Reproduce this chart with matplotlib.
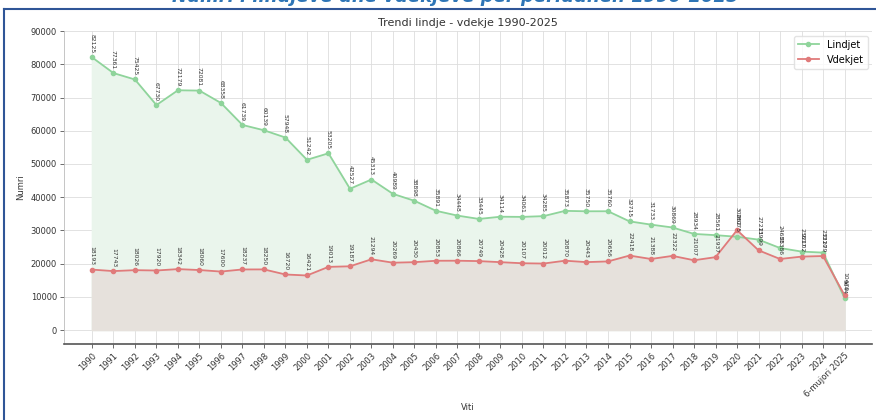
# -*- coding: utf-8 -*-
"""Trendi lindje - vdekje 1990-2025 (lindjet dhe vdekjet ne Shqiperi)."""
import matplotlib
matplotlib.use("Agg")
import matplotlib.pyplot as plt
from matplotlib.lines import Line2D

# ----------------------------------------------------------------------
# te dhenat
# ----------------------------------------------------------------------
vitet = [str(v) for v in range(1990, 2025)] + ["6-mujori 2025"]

lindjet = [82125, 77361, 75425, 67730, 72179, 72081, 68358, 61739, 60139, 57948,
           51242, 53205, 42527, 45313, 40989, 38898, 35891, 34448, 33445, 34114,
           34061, 34285, 35873, 35750, 35760, 32715, 31733, 30869, 28934, 28561,
           28075, 27211, 24688, 23617, 23310, 9644]

vdekjet = [18193, 17743, 18026, 17920, 18342, 18060, 17600, 18237, 18250, 16720,
           16421, 19013, 19187, 21294, 20269, 20430, 20853, 20866, 20749, 20428,
           20107, 20012, 20870, 20443, 20656, 22418, 21388, 22322, 21007, 21937,
           30062, 23999, 21386, 22102, 22279, 10479]

y_ticks = list(range(0, 90001, 10000))

GREEN = "#8fd49b"
RED = "#e07b7b"
GREEN_FILL = "#eaf5ec"
RED_FILL = "#e6e1dc"

fig = plt.figure(figsize=(8.76, 4.2), dpi=100)
ax = fig.add_axes([0.073, 0.181, 0.923, 0.745])

x = list(range(len(vitet)))

ax.fill_between(x, 0, lindjet, color=GREEN_FILL, zorder=1)
ax.fill_between(x, 0, vdekjet, color=RED_FILL, zorder=2)
ax.plot(x, lindjet, color=GREEN, lw=1.3, marker="o", ms=3, zorder=4)
ax.plot(x, vdekjet, color=RED, lw=1.3, marker="o", ms=3, zorder=4)

for xi, v in zip(x, lindjet):
    ax.annotate(str(v), (xi, v), xytext=(0, 3), textcoords="offset points",
                rotation=-90, ha="center", va="bottom", fontsize=4.3,
                color="#333333", zorder=5)
for xi, v in zip(x, vdekjet):
    ax.annotate(str(v), (xi, v), xytext=(0, 3), textcoords="offset points",
                rotation=-90, ha="center", va="bottom", fontsize=4.3,
                color="#333333", zorder=5)

ax.set_xlim(-1.3, len(vitet) - 1 + 1.3)
ax.set_ylim(-4200, 90000)
ax.set_xticks(x)
ax.set_xticklabels(vitet, rotation=45, ha="right", rotation_mode="anchor",
                   fontsize=6, color="#333333")
ax.set_yticks(y_ticks)
ax.set_yticklabels([str(t) for t in y_ticks], fontsize=6, color="#333333")
ax.tick_params(axis="both", length=3, width=0.6, color="#555555", pad=2)

ax.grid(True, color="#dddddd", lw=0.6)
ax.set_axisbelow(True)
for s in ["top", "right"]:
    ax.spines[s].set_visible(False)
ax.spines["left"].set_color("#bbbbbb")
ax.spines["left"].set_linewidth(0.6)
ax.spines["bottom"].set_color("#555555")
ax.spines["bottom"].set_linewidth(1.2)

ax.set_title("Trendi lindje - vdekje 1990-2025", fontsize=8, color="#333333", pad=4)
ax.set_xlabel("Viti", fontsize=6, color="#333333")
ax.xaxis.set_label_coords(0.5, -0.19)
ax.set_ylabel("Numri", fontsize=6, color="#333333", labelpad=4)

handles = [Line2D([0], [0], color=GREEN, marker="o", ms=3, lw=1.3),
           Line2D([0], [0], color=RED, marker="o", ms=3, lw=1.3)]
ax.legend(handles, ["Lindjet", "Vdekjet"], loc="upper right", fontsize=7,
          frameon=True, edgecolor="#dddddd", handlelength=2.2)

# titulli i dokumentit (i prere lart) dhe korniza blu
fig.text(0.52, 1.006, "Numri i lindjeve dhe vdekjeve për periudhën 1990-2025",
         ha="center", va="center", fontsize=13, fontweight="bold",
         fontstyle="italic", color="#2e75b6")
fig.add_artist(Line2D([0.004, 1.0], [0.978, 0.978], color="#2f5597", lw=1.5,
                      transform=fig.transFigure))
fig.add_artist(Line2D([0.005, 0.005], [0.0, 0.978], color="#2f5597", lw=1.5,
                      transform=fig.transFigure))

fig.savefig("out.png", dpi=100)
